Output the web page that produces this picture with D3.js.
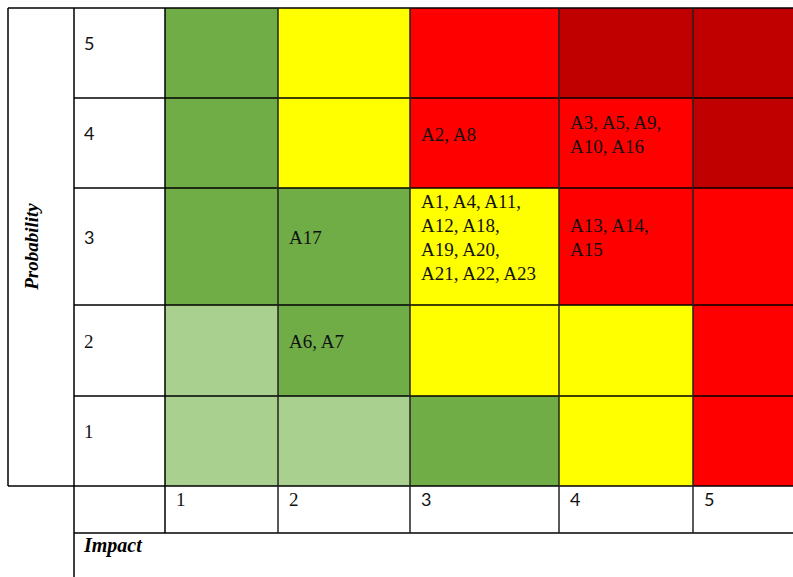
<!DOCTYPE html>
<html>
<head>
<meta charset="utf-8">
<script src="https://cdn.jsdelivr.net/npm/d3@7"></script>
<style>
  body { margin: 0; background: #fff; }
  svg { display: block; }
</style>
</head>
<body>
<svg id="chart" width="793" height="577"></svg>
<script>
// data
const probabilityLevels = [5, 4, 3, 2, 1];
const impactLevels = [1, 2, 3, 4, 5];
// risk rating per cell, rows follow probabilityLevels, columns follow impactLevels
const ratings = [
  [2, 3, 4, 5, 5],
  [2, 3, 4, 4, 5],
  [2, 2, 3, 4, 4],
  [1, 2, 3, 3, 4],
  [1, 1, 2, 3, 4],
];
const riskItems = [
  { p: 4, i: 3, lines: ['A2, A8'] },
  { p: 4, i: 4, lines: ['A3, A5, A9,', 'A10, A16'] },
  { p: 3, i: 2, lines: ['A17'] },
  { p: 3, i: 3, lines: ['A1, A4, A11,', 'A12, A18,', 'A19, A20,', 'A21, A22, A23'] },
  { p: 3, i: 4, lines: ['A13, A14,', 'A15'] },
  { p: 2, i: 2, lines: ['A6, A7'] },
];
const xTitle = 'Impact';
const yTitle = 'Probability';

// layout
const colWidths = [113, 132, 149, 134, 140];
const rowHeights = [90, 90, 117, 91, 90];
const gridLeft = 165, gridTop = 8;
const outerLeft = 8, labelLeft = 74;
const axisRowH = 47;
const lineH = 24;
const serif = '"Liberation Serif", "Times New Roman", serif';
const sans = 'Lato, "Open Sans", sans-serif';

const ratingColor = d3.scaleOrdinal()
  .domain([1, 2, 3, 4, 5])
  .range(['#a9d08e', '#70ad47', '#ffff00', '#ff0000', '#c00000']);

const cum = a => a.reduce((acc, w) => (acc.push(acc[acc.length - 1] + w), acc), [0]);
const colEdges = cum(colWidths), rowEdges = cum(rowHeights);

const x = d3.scaleOrdinal().domain(impactLevels).range(colEdges.slice(0, -1).map(v => gridLeft + v));
const xw = d3.scaleOrdinal().domain(impactLevels).range(colWidths);
const y = d3.scaleOrdinal().domain(probabilityLevels).range(rowEdges.slice(0, -1).map(v => gridTop + v));
const yh = d3.scaleOrdinal().domain(probabilityLevels).range(rowHeights);

const gridBottom = gridTop + rowEdges[rowEdges.length - 1];
const W = 793, H = 577;

const svg = d3.select('#chart');

const cells = [];
probabilityLevels.forEach((p, r) => impactLevels.forEach((i, c) => cells.push({ p, i, rating: ratings[r][c] })));

svg.append('g').selectAll('rect').data(cells).join('rect')
  .attr('x', d => x(d.i)).attr('y', d => y(d.p))
  .attr('width', d => xw(d.i) + 40 * (d.i === 5)).attr('height', d => yh(d.p))
  .attr('fill', d => ratingColor(d.rating));

// grid lines
const lines = svg.append('g').attr('stroke', '#000').attr('stroke-width', 1.5).attr('fill', 'none');
const hl = (x1, x2, yy, c) => lines.append('line').attr('x1', x1).attr('x2', x2).attr('y1', yy).attr('y2', yy).attr('stroke', c || '#000');
const vl = (xx, y1, y2, c) => lines.append('line').attr('x1', xx).attr('x2', xx).attr('y1', y1).attr('y2', y2).attr('stroke', c || '#000');

hl(outerLeft, W, gridTop);
probabilityLevels.slice(1).forEach(p => hl(labelLeft, W, y(p)));
hl(outerLeft, W, gridBottom);
hl(labelLeft, W, gridBottom + axisRowH);
vl(outerLeft, gridTop, gridBottom);
vl(labelLeft, gridTop, H);
impactLevels.forEach(i => vl(x(i), gridTop, gridBottom + axisRowH, i === 1 ? '#000' : '#222'));

const fontFor = v => (v <= 2 ? serif : sans);
const sizeFor = v => (v <= 2 ? 19 : 18);

// probability labels
svg.append('g').selectAll('text').data(probabilityLevels).join('text')
  .attr('x', 84)
  .attr('y', p => y(p) + yh(p) / 2 - 3)
  .attr('font-family', fontFor).attr('font-size', sizeFor).attr('fill', '#111')
  .text(p => p);

// impact labels
svg.append('g').selectAll('text').data(impactLevels).join('text')
  .attr('x', i => x(i) + 11)
  .attr('y', gridBottom + 20)
  .attr('font-family', fontFor).attr('font-size', sizeFor).attr('fill', '#111')
  .text(i => i);

// risk items
const itemG = svg.append('g').attr('font-family', serif).attr('font-size', 19).attr('fill', '#111');
riskItems.forEach(d => {
  const cy = y(d.p) + yh(d.p) / 2 - 2.5;
  const n = d.lines.length;
  itemG.append('text')
    .selectAll('tspan').data(d.lines).join('tspan')
    .attr('x', x(d.i) + 11)
    .attr('y', (t, k) => cy + (k - (n - 1) / 2) * lineH)
    .text(t => t);
});

// titles
svg.append('text')
  .attr('x', 84).attr('y', gridBottom + axisRowH + 19)
  .attr('font-family', serif).attr('font-size', 20)
  .attr('font-weight', 'bold').attr('font-style', 'italic')
  .text(xTitle);

svg.append('text')
  .attr('transform', `translate(38, ${y(3) + yh(3) / 2}) rotate(-90)`)
  .attr('text-anchor', 'middle')
  .attr('font-family', serif).attr('font-size', 19)
  .attr('font-weight', 'bold').attr('font-style', 'italic')
  .text(yTitle);
</script>
</body>
</html>
